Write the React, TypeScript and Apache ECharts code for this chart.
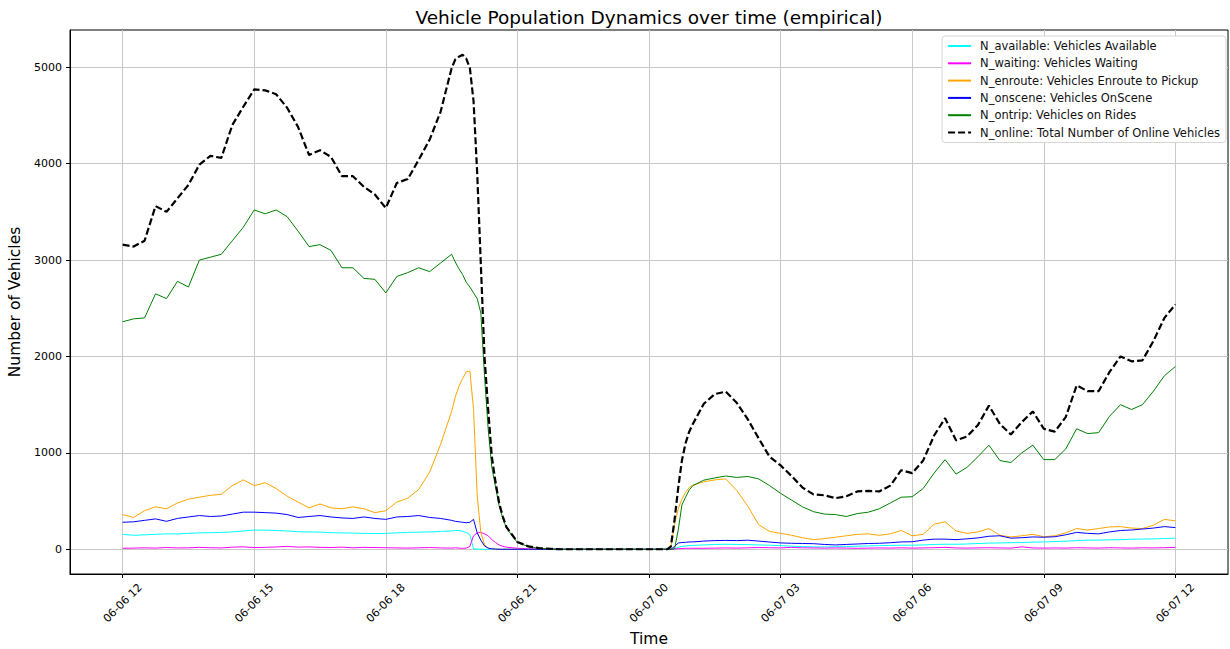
import React, { useEffect, useRef } from "react";
import * as echarts from "echarts";

// Minutes after 06-06 12:00 at which the values were read
const minutes = [
  0, 15, 30, 45, 60, 75, 90, 105, 120, 135, 150, 165, 180, 195, 210, 225, 240, 255, 270, 285, 300, 315, 330, 345, 360, 375, 390, 405, 420, 435, 450,
  455, 460, 465, 470, 475, 480, 485, 490, 495, 500, 505, 510, 515, 520, 525,
  540, 555, 570, 585, 600, 615, 630, 645, 660, 675, 690, 705, 720, 735,
  740, 745, 750, 755, 760, 765, 770, 775, 780,
  795, 810, 825, 840, 855, 870, 885, 900, 915, 930, 945, 960, 975, 990, 1005, 1020, 1035, 1050, 1065, 1080, 1095, 1110,
  1125, 1140, 1155, 1170, 1185, 1200, 1215, 1230, 1245, 1260, 1275, 1290, 1305, 1320, 1335, 1350, 1365, 1380, 1395, 1410, 1425, 1440,
];

const nAvailable = [
  155, 145, 150, 155, 160, 160, 165, 170, 172, 175, 180, 190, 200, 198, 195, 190, 182, 180, 178, 172, 170, 168, 165, 163, 165, 170, 175, 178, 180, 185, 190,
  195, 195, 185, 175, 150, 5, 2, 0, 0, 0, 0, 0, 0, 0, 0,
  0, 0, 0, 0, 0, 0, 0, 0, 0, 0, 0, 0, 0, 0,
  0, 0, 0, 5, 20, 30, 35, 38, 40,
  45, 50, 52, 50, 48, 45, 42, 38, 32, 28, 25, 24, 26, 28, 32, 35, 38, 40, 42, 42, 45, 50,
  52, 52, 55, 60, 64, 66, 68, 70, 74, 76, 80, 84, 90, 94, 96, 98, 100, 104, 106, 108, 112, 115,
];

const nWaiting = [
  10, 12, 15, 12, 18, 14, 15, 20, 16, 14, 22, 25, 18, 20, 24, 30, 22, 25, 20, 18, 22, 15, 20, 18, 16, 14, 12, 15, 18, 14, 12,
  15, 12, 10, 12, 30, 140, 170, 175, 160, 140, 100, 70, 45, 30, 22,
  10, 5, 2, 1, 0, 0, 0, 0, 0, 0, 0, 0, 0, 0,
  0, 0, 0, 3, 6, 8, 10, 10, 10,
  10, 12, 14, 12, 15, 18, 16, 14, 20, 15, 14, 12, 14, 12, 10, 12, 14, 12, 15, 12, 14, 16,
  20, 14, 12, 14, 16, 14, 12, 25, 14, 12, 14, 12, 16, 14, 12, 16, 14, 12, 15, 14, 16, 20,
];

const nEnroute = [
  360, 330, 400, 440, 420, 480, 520, 540, 560, 570, 660, 720, 660, 690, 630, 550, 490, 430, 470, 430, 420, 440, 420, 380, 400, 490, 530, 620, 800, 1090, 1430,
  1580, 1690, 1770, 1840, 1850, 1450, 560, 170, 50, 10, 3, 0, 0, 0, 0,
  0, 0, 0, 0, 0, 0, 0, 0, 0, 0, 0, 0, 0, 0,
  0, 0, 20, 260, 420, 520, 590, 640, 665,
  700, 720, 730, 610, 450, 255, 185, 165, 145, 120, 100, 110, 125, 140, 155, 160, 145, 160, 195, 140, 155, 260,
  285, 190, 165, 180, 215, 145, 128, 140, 155, 130, 140, 170, 215, 200, 215, 232, 235, 220, 215, 250, 310, 295,
];

const nOnscene = [
  280, 285, 300, 315, 290, 320, 335, 350, 340, 345, 365, 385, 385, 380, 375, 360, 330, 340, 350, 335, 325, 320, 335, 320, 310, 335, 340, 350, 330, 320, 300,
  290, 285, 280, 275, 280, 310, 170, 95, 35, 12, 5, 2, 0, 0, 0,
  0, 0, 0, 0, 0, 0, 0, 0, 0, 0, 0, 0, 0, 0,
  0, 0, 0, 30, 65, 70, 72, 76, 76,
  85, 90, 92, 90, 94, 85, 75, 66, 62, 60, 58, 50, 45, 50, 55, 60, 62, 68, 76, 78, 95, 105,
  105, 100, 108, 118, 135, 140, 115, 120, 128, 125, 130, 150, 175, 165, 160, 180, 195, 200, 210, 220, 235, 225,
];

const nOntrip = [
  2360, 2390, 2400, 2650, 2600, 2780, 2720, 3000, 3030, 3060, 3200, 3340, 3520, 3480, 3520, 3450, 3300, 3140, 3160, 3100, 2920, 2920, 2810, 2800, 2660, 2830, 2870, 2920, 2880, 2970, 3060,
  2980, 2910, 2850, 2770, 2720, 2660, 2600, 2450, 1800, 1250, 850, 650, 450, 320, 220,
  70, 28, 10, 4, 0, 0, 0, 0, 0, 0, 0, 0, 0, 0,
  0, 0, 0, 5, 200, 460, 540, 615, 660,
  717, 740, 760, 745, 755, 730, 660, 580, 510, 440, 390, 365, 360, 340, 370, 385, 420, 480, 540, 545, 630, 790,
  930, 780, 850, 960, 1080, 920, 900, 1000, 1080, 930, 930, 1040, 1250, 1200, 1210, 1380, 1500, 1450, 1500, 1640, 1800, 1895,
];

const nOnline = [
  3160, 3140, 3200, 3560, 3500, 3640, 3780, 3990, 4080, 4060, 4400, 4590, 4770, 4760, 4720, 4580, 4380, 4090, 4140, 4070, 3870, 3870, 3760, 3680, 3540, 3800, 3840, 4040, 4250, 4540, 4990,
  5080, 5110, 5130, 5090, 4990, 4650, 3900, 2950, 2000, 1450, 960, 700, 480, 340, 230,
  76, 30, 12, 5, 0, 0, 0, 0, 0, 0, 0, 0, 0, 0,
  0, 0, 30, 310, 640, 920, 1100, 1220, 1300,
  1510, 1610, 1635, 1520, 1350, 1150, 960, 870, 760, 640, 570, 560, 530, 550, 600, 605, 600, 660, 820, 790, 920, 1180,
  1360, 1130, 1170, 1290, 1490, 1300, 1190, 1320, 1430, 1250, 1220, 1370, 1700, 1640, 1640, 1840, 2000, 1950, 1960, 2160, 2400, 2540,
];

const seriesNames = [
  "N_available: Vehicles Available",
  "N_waiting: Vehicles Waiting",
  "N_enroute: Vehicles Enroute to Pickup",
  "N_onscene: Vehicles OnScene",
  "N_ontrip: Vehicles on Rides",
  "N_online: Total Number of Online Vehicles",
];
const seriesColors = ["#00ffff", "#ff00ff", "#ffa500", "#0000ff", "#008000", "#000000"];
const yTicks = [0, 1000, 2000, 3000, 4000, 5000];
// x ticks: hours after 06-06 12:00
const xTicks = [0, 3, 6, 9, 12, 15, 18, 21, 24];

const FONT = "DejaVu Sans";
const START = Date.UTC(2024, 5, 6, 12, 0, 0);
const HOUR = 3600 * 1000;

function pad(n: number) {
  return n < 10 ? "0" + n : String(n);
}

export default function App() {
  const ref = useRef<HTMLDivElement>(null);
  useEffect(() => {
    document.body.style.margin = "0";
    if (!ref.current) return;
    const chart = echarts.init(ref.current, undefined, { renderer: "svg" });
    const all = [nAvailable, nWaiting, nEnroute, nOnscene, nOntrip, nOnline];
    const series = all.map((vals, k) => ({
      name: seriesNames[k],
      type: "line",
      symbol: "none",
      showSymbol: false,
      data: minutes.map((m, i) => [m / 60, vals[i]]),
      lineStyle:
        k === 5
          ? { color: seriesColors[k], width: 2.2, type: [7, 3] }
          : { color: seriesColors[k], width: 1 },
      itemStyle: { color: seriesColors[k] },
      z: 2 + k,
    }));
    chart.setOption({
      animation: false,
      backgroundColor: "#ffffff",
      textStyle: { fontFamily: FONT },
      graphic: [
        {
          type: "text",
          x: 649,
          y: 17,
          style: {
            text: "Vehicle Population Dynamics over time (empirical)",
            fontSize: 18.5,
            fontFamily: FONT,
            fill: "#000",
            textAlign: "center",
            textVerticalAlign: "middle",
          },
        },
      ],
      grid: {
        left: 70,
        top: 30,
        width: 1158,
        height: 544,
        outerBoundsMode: "none",
        containLabel: false,
        show: true,
        borderColor: "#000",
        borderWidth: 1,
        backgroundColor: "transparent",
      },
      legend: {
        orient: "vertical",
        right: 4,
        top: 36,
        backgroundColor: "#fff",
        borderColor: "#d6d6d6",
        borderWidth: 1,
        borderRadius: 3,
        padding: [4, 6, 4, 5],
        itemWidth: 23,
        itemHeight: 12,
        itemGap: 5.3,
        itemStyle: { opacity: 0 },
        textStyle: { fontSize: 11.5, fontFamily: FONT, color: "#111", padding: [0, 0, 0, 4] },
        data: seriesNames,
      },
      xAxis: {
        type: "value",
        min: -1.2,
        max: 25.2,
        name: "Time",
        nameLocation: "middle",
        nameGap: 55,
        nameTextStyle: { fontSize: 15.5, fontFamily: FONT, color: "#000" },
        axisLine: { show: true, onZero: false, lineStyle: { color: "#000", width: 1 } },
        axisTick: { show: true, inside: false, length: 4, lineStyle: { color: "#000" }, customValues: xTicks },
        splitLine: { show: true, lineStyle: { color: "#c8c8c8", width: 1 } },
        axisLabel: {
          rotate: 45,
          align: "center",
          verticalAlign: "middle",
          margin: 29,
          fontSize: 11,
          fontFamily: FONT,
          color: "#000",
          hideOverlap: false,
          customValues: xTicks,
          formatter: (v: number) => {
            const d = new Date(START + v * HOUR);
            return `${pad(d.getUTCMonth() + 1)}-${pad(d.getUTCDate())} ${pad(d.getUTCHours())}`;
          },
        },
      },
      yAxis: {
        type: "value",
        min: -256.5,
        max: 5386.5,
        name: "Number of Vehicles",
        nameLocation: "middle",
        nameGap: 40,
        nameTextStyle: { fontSize: 15.5, fontFamily: FONT, color: "#000" },
        axisLine: { show: true, onZero: false, lineStyle: { color: "#000", width: 1 } },
        axisTick: { show: true, inside: false, length: 4, lineStyle: { color: "#000" }, customValues: yTicks },
        splitLine: { show: true, lineStyle: { color: "#c8c8c8", width: 1 } },
        axisLabel: {
          margin: 8,
          fontSize: 11,
          fontFamily: FONT,
          color: "#000",
          customValues: yTicks,
          formatter: (v: number) => String(v),
        },
      },
      series,
    });
    return () => chart.dispose();
  }, []);
  return <div ref={ref} style={{ width: 1230, height: 649 }} />;
}
